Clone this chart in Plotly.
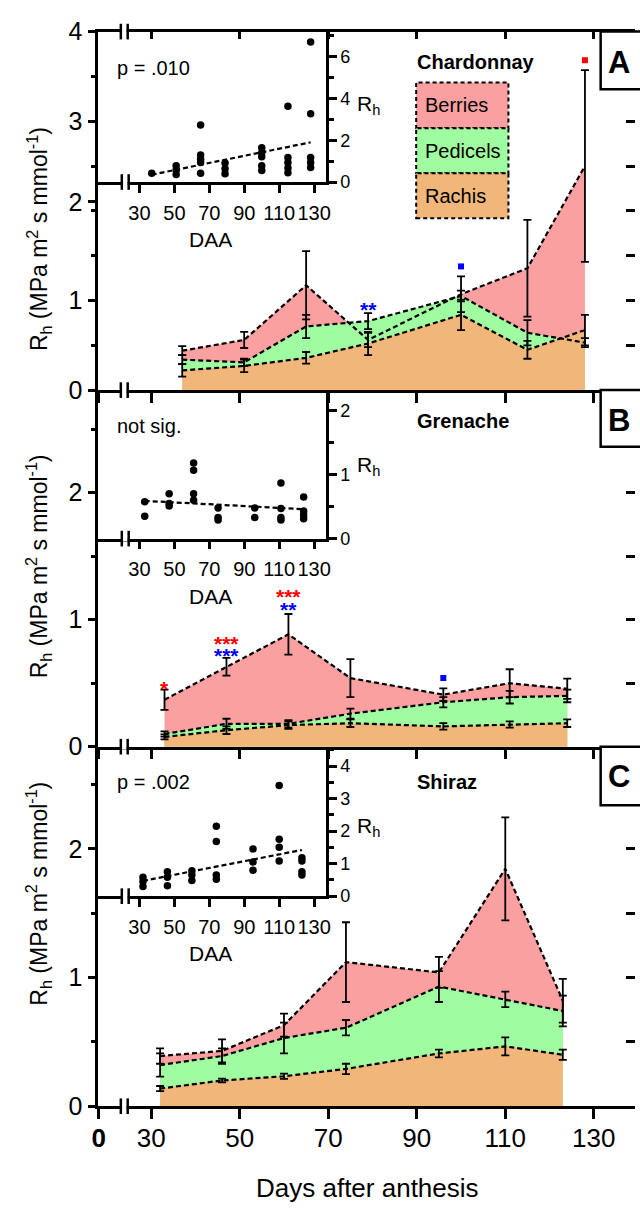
import plotly.graph_objects as go

W, H = 640, 1214

# ---------------- data ----------------
# Panel A - Chardonnay
daa_A = [37, 51, 65, 79, 100, 115, 128]
berries_A = [0.44, 0.56, 1.17, 0.56, 1.07, 1.36, 2.50]
berries_A_err = [0.05, 0.09, 0.38, 0.08, 0.20, 0.54, 1.07]
pedicels_A = [0.34, 0.31, 0.71, 0.77, 1.05, 0.64, 0.53]
pedicels_A_err = [0.05, 0.04, 0.13, 0.09, 0.06, 0.14, 0.05]
rachis_A = [0.22, 0.27, 0.36, 0.52, 0.84, 0.45, 0.67]
rachis_A_err = [0.07, 0.07, 0.065, 0.13, 0.17, 0.10, 0.17]

# Panel B - Grenache
daa_B = [33, 47, 61, 75, 96, 111, 124]
berries_B = [0.37, 0.63, 0.885, 0.54, 0.41, 0.50, 0.456]
berries_B_err = [0.08, 0.07, 0.16, 0.15, 0.05, 0.11, 0.08]
pedicels_B = [0.10, 0.18, 0.18, 0.26, 0.35, 0.39, 0.40]
pedicels_B_err = [0.02, 0.04, 0.03, 0.04, 0.04, 0.05, 0.05]
rachis_B = [0.077, 0.13, 0.17, 0.185, 0.16, 0.175, 0.185]
rachis_B_err = [0.02, 0.03, 0.03, 0.03, 0.025, 0.025, 0.03]

# Panel C - Shiraz
daa_C = [32, 46, 60, 74, 95, 110, 123]
berries_C = [0.39, 0.43, 0.63, 1.12, 1.04, 1.845, 0.82]
berries_C_err = [0.06, 0.09, 0.09, 0.31, 0.12, 0.40, 0.17]
pedicels_C = [0.32, 0.39, 0.53, 0.61, 0.93, 0.83, 0.74]
pedicels_C_err = [0.09, 0.06, 0.12, 0.06, 0.12, 0.06, 0.12]
rachis_C = [0.137, 0.20, 0.233, 0.29, 0.41, 0.465, 0.40]
rachis_C_err = [0.02, 0.015, 0.02, 0.04, 0.03, 0.07, 0.04]

# Insets: individual Rh values vs DAA and the fitted line ends
insA_daa = [37, 51, 51, 51, 65, 65, 65, 65, 65, 79, 79, 79, 100, 100, 100, 100, 100,
            115, 115, 115, 115, 115, 128, 128, 128, 128, 128]
insA_rh = [0.42, 0.78, 0.58, 0.36, 2.73, 1.29, 1.09, 0.93, 0.42, 0.91, 0.63, 0.39,
           1.64, 1.40, 1.21, 0.78, 0.55, 3.63, 1.17, 0.93, 0.67, 0.44, 6.7, 3.27, 1.17, 0.93, 0.70]
fitA_daa = [37, 128]
fitA_rh = [0.35, 1.9]

insB_daa = [33, 33, 47, 47, 47, 61, 61, 61, 61, 75, 75, 75, 96, 96, 111, 111, 111, 111,
            124, 124, 124, 124]
insB_rh = [0.575, 0.35, 0.70, 0.55, 0.51, 1.18, 1.07, 0.70, 0.60, 0.48, 0.33, 0.29,
           0.48, 0.33, 0.87, 0.47, 0.33, 0.29, 0.65, 0.43, 0.37, 0.31]
fitB_daa = [33, 124]
fitB_rh = [0.59, 0.46]

insC_daa = [32, 32, 32, 46, 46, 46, 60, 60, 60, 74, 74, 74, 74, 95, 95, 95,
            110, 110, 110, 110, 123, 123, 123, 123]
insC_rh = [0.58, 0.45, 0.30, 0.75, 0.58, 0.32, 0.78, 0.65, 0.48, 2.15, 1.68, 0.65, 0.52,
           1.45, 1.05, 0.80, 3.4, 1.75, 1.5, 1.08, 1.18, 1.08, 0.75, 0.65]
fitC_daa = [32, 123]
fitC_rh = [0.47, 1.42]

# significance marks: (panel, DAA, y, text, colour)
sig_stars = [
    ("A", 79, 0.95, "**", "blue"),
    ("B", 33, 0.50, "*", "red"),
    ("B", 47, 0.85, "***", "red"),
    ("B", 47, 0.76, "***", "blue"),
    ("B", 61, 1.22, "***", "red"),
    ("B", 61, 1.12, "**", "blue"),
]
sig_squares = [
    ("A", 128, 3.68, "red"),
    ("A", 100, 1.38, "blue"),
    ("B", 96, 0.54, "blue"),
]

series_names = ["Berries", "Pedicels", "Rachis"]
cultivars = ["Chardonnay", "Grenache", "Shiraz"]
panel_letters = ["A", "B", "C"]
p_texts = ["p = .010", "not sig.", "p = .002"]
main_xticks = [30, 50, 70, 90, 110, 130]
inset_xticks = [30, 50, 70, 90, 110, 130]

# ---------------- layout helpers ----------------
def px(x):
    return x / W

def py(y):
    return 1 - y / H

FONT = "Liberation Sans, Arial, Helvetica, sans-serif"
RED = "rgb(250,160,160)"
GREEN = "rgb(160,252,160)"
ORANGE = "rgb(240,182,122)"
FILLS = [RED, GREEN, ORANGE]
DASH = "5px,3px"

LEFT = 93
XR0, XR1 = 18.03, 139.31          # main x range (spine at 93 px, right edge at 640 px)
ZERO_POS = 18.15                   # position of the broken-axis "0" tick
panel_px = [(18, 385), (385, 750), (750, 1118)]
inset_bottom = [172, 537, 903]
INSET_RIGHT = 325
IXR0, IXR1 = 6.4, 136.74
main_ytop = [4.0, 365 / 130.0, 368 / 131.7]
inset_ytop = [154 / 21.4, 152 / 65.5, 153 / 33.3]
main_ylabels = [[0, 1, 2, 3, 4], [0, 1, 2], [0, 1, 2]]
main_ytickpos = [[0, 1, 2.1, 3, 4], [0, 1, 2], [0, 1, 2]]
inset_yticks = [[0, 2, 4, 6], [0, 1, 2], [0, 1, 2, 3, 4]]
inset_ydt = [1, 0.5, 0.5]

data = [
    (daa_A, [berries_A, pedicels_A, rachis_A], [berries_A_err, pedicels_A_err, rachis_A_err],
     insA_daa, insA_rh, fitA_daa, fitA_rh),
    (daa_B, [berries_B, pedicels_B, rachis_B], [berries_B_err, pedicels_B_err, rachis_B_err],
     insB_daa, insB_rh, fitB_daa, fitB_rh),
    (daa_C, [berries_C, pedicels_C, rachis_C], [berries_C_err, pedicels_C_err, rachis_C_err],
     insC_daa, insC_rh, fitC_daa, fitC_rh),
]

fig = go.Figure()
layout = dict(width=W, height=H, margin=dict(l=0, r=0, t=0, b=0),
              paper_bgcolor="white", plot_bgcolor="rgba(0,0,0,0)", showlegend=False,
              font=dict(family=FONT, color="black"))

shapes = []
annotations = []

for i in range(3):
    top, bot = panel_px[i]
    mx = "x" if i == 0 else f"x{i+1}"
    my = "y" if i == 0 else f"y{i+1}"
    ix, iy = f"x{i+4}", f"y{i+4}"
    mxk = "xaxis" if i == 0 else f"xaxis{i+1}"
    myk = "yaxis" if i == 0 else f"yaxis{i+1}"
    daa, vals, errs, idaa, irh, fdaa, frh = data[i]

    for name, v, col in zip(series_names, vals, FILLS):
        fig.add_trace(go.Scatter(x=daa, y=v, mode="lines", fill="tozeroy", fillcolor=col,
                                 line=dict(width=0, color=col), name=name,
                                 xaxis=mx, yaxis=my, hoverinfo="skip"))
    for name, v in zip(series_names, vals):
        fig.add_trace(go.Scatter(x=daa, y=v, mode="lines",
                                 line=dict(width=2.2, color="black", dash=DASH),
                                 xaxis=mx, yaxis=my, name=name))
    for name, v, e in zip(series_names, vals, errs):
        fig.add_trace(go.Scatter(x=daa, y=v, mode="markers",
                                 marker=dict(size=2, color="rgba(0,0,0,0)"),
                                 error_y=dict(type="data", array=e, visible=True,
                                              color="black", thickness=1.8, width=4),
                                 xaxis=mx, yaxis=my, name=name))
    fig.add_trace(go.Scatter(x=idaa, y=irh, mode="markers",
                             marker=dict(size=7.5, color="black"), xaxis=ix, yaxis=iy))
    fig.add_trace(go.Scatter(x=fdaa, y=frh, mode="lines",
                             line=dict(width=2.2, color="black", dash=DASH), xaxis=ix, yaxis=iy))

    layout[mxk] = dict(domain=[px(LEFT), 1.0], range=[XR0, XR1], anchor=my,
                       showline=True, linewidth=2.5, linecolor="black",
                       ticks="outside", ticklen=10, tickwidth=2.5, tickcolor="black",
                       tickvals=[ZERO_POS] + main_xticks,
                       ticktext=["<b>0</b>"] + [str(t) for t in main_xticks],
                       showticklabels=(i == 2), tickfont=dict(family=FONT, size=26, color="black"),
                       ticklabelstandoff=-3, tickangle=0,
                       showgrid=False, zeroline=False)
    layout[myk] = dict(domain=[py(bot), py(top)], range=[0, main_ytop[i]], anchor=mx,
                       showline=True, linewidth=2.5, linecolor="black",
                       ticks="outside", ticklen=8, tickwidth=2.5, tickcolor="black",
                       tickvals=main_ytickpos[i], ticktext=[str(t) for t in main_ylabels[i]],
                       minor=dict(dtick=0.5, tick0=0, ticks="outside", ticklen=5,
                                  tickwidth=2.5, tickcolor="black", showgrid=False),
                       tickfont=dict(family=FONT, size=25, color="black"),
                       showgrid=False, zeroline=False)
    ryk = f"yaxis{i+7}"
    layout[ryk] = dict(overlaying=my, side="right", anchor=mx, range=[0, main_ytop[i]],
                       showline=False, ticks="inside", ticklen=9, tickwidth=2.5, tickcolor="black",
                       dtick=0.5, tick0=0, showticklabels=False, showgrid=False, zeroline=False)
    fig.add_trace(go.Scatter(x=[None], y=[None], xaxis=mx, yaxis=f"y{i+7}", hoverinfo="skip"))

    layout[f"xaxis{i+4}"] = dict(domain=[px(LEFT), px(INSET_RIGHT)], range=[IXR0, IXR1], anchor=iy,
                                 showline=True, linewidth=2.5, linecolor="black",
                                 ticks="outside", ticklen=8, tickwidth=2.5, tickcolor="black",
                                 tickvals=inset_xticks, ticktext=[str(t) for t in inset_xticks],
                                 tickfont=dict(family=FONT, size=20, color="black"),
                                 tickangle=0, ticklabelstandoff=3,
                                 showgrid=False, zeroline=False)
    layout[f"yaxis{i+4}"] = dict(domain=[py(inset_bottom[i]), py(top)], range=[0, inset_ytop[i]],
                                 anchor=ix, side="right",
                                 showline=True, linewidth=2.5, linecolor="black",
                                 ticks="outside", ticklen=8, tickwidth=2.5, tickcolor="black",
                                 tickvals=inset_yticks[i], ticktext=[str(t) for t in inset_yticks[i]],
                                 minor=dict(dtick=inset_ydt[i], tick0=0, ticks="outside", ticklen=5,
                                            tickwidth=2.5, tickcolor="black", showgrid=False),
                                 tickfont=dict(family=FONT, size=18, color="black"),
                                 showgrid=False, zeroline=False)

    ytitle_y = [230, 565, 900][i]
    annotations.append(dict(x=px(32), y=py(ytitle_y), xref="paper", yref="paper",
                            text="R<sub>h</sub> (MPa m<sup>2</sup> s mmol<sup>-1</sup>)",
                            textangle=-90, showarrow=False, xanchor="center", yanchor="middle",
                            font=dict(family=FONT, size=23, color="black")))
    annotations.append(dict(x=px(207), y=py(inset_bottom[i] + 59), xref="paper", yref="paper",
                            text="DAA", showarrow=False, xanchor="center", yanchor="middle",
                            font=dict(family=FONT, size=21, color="black")))
    annotations.append(dict(x=px(355), y=py([93, 463, 832][i]), xref="paper", yref="paper",
                            text="R<sub>h</sub>", showarrow=False, xanchor="left", yanchor="middle",
                            font=dict(family=FONT, size=21, color="black")))
    annotations.append(dict(x=px(110), y=py([55, 422, 786][i]), xref="paper", yref="paper",
                            text=p_texts[i], showarrow=False, xanchor="left", yanchor="middle",
                            font=dict(family=FONT, size=20, color="black")))
    annotations.append(dict(x=px(416), y=py([49, 417, 786][i]), xref="paper", yref="paper",
                            text="<b>" + cultivars[i] + "</b>", showarrow=False, xanchor="left",
                            yanchor="middle", font=dict(family=FONT, size=20, color="black")))
    box_bot = [77, 443, 810][i]
    shapes.append(dict(type="rect", xref="paper", yref="paper", x0=px(605), x1=px(680),
                       y0=py(box_bot), y1=py(top), line=dict(color="black", width=2.5),
                       fillcolor="white", layer="above"))
    annotations.append(dict(x=px(624), y=py([50, 416, 781][i]), xref="paper", yref="paper",
                            text="<b>" + panel_letters[i] + "</b>", showarrow=False,
                            xanchor="center", yanchor="middle",
                            font=dict(family=FONT, size=31, color="black")))

layout["xaxis7"] = dict(overlaying="x", side="top", anchor="y", range=[XR0, XR1],
                        showline=True, linewidth=2.5, linecolor="black",
                        ticks="inside", ticklen=8, tickwidth=2.5, tickcolor="black",
                        tickvals=main_xticks, showticklabels=False, showgrid=False, zeroline=False)
fig.add_trace(go.Scatter(x=[None], y=[None], xaxis="x7", yaxis="y", hoverinfo="skip"))

def add_break(ypix, g0, g1):
    shapes.append(dict(type="rect", xref="paper", yref="paper", x0=px(g0 + 1), x1=px(g1 - 1),
                       y0=py(ypix + 3), y1=py(ypix - 3), line=dict(width=0),
                       fillcolor="white", layer="above"))
    for g in (g0, g1):
        shapes.append(dict(type="line", xref="paper", yref="paper", x0=px(g), x1=px(g),
                           y0=py(ypix + 8), y1=py(ypix - 8),
                           line=dict(color="black", width=2.5), layer="above"))

for yb in [18, 385, 750, 1118]:
    add_break(yb, 116, 123)
for yb in inset_bottom:
    add_break(yb, 117, 124)

leg_y = [(70, 117), (117, 163), (163, 209)]
for name, col, (y0, y1) in zip(series_names, FILLS, leg_y):
    shapes.append(dict(type="rect", xref="paper", yref="paper", x0=px(417), x1=px(511),
                       y0=py(y1), y1=py(y0), fillcolor=col,
                       line=dict(color="black", width=2, dash="4px,3px"), layer="above"))
    annotations.append(dict(x=px(424), y=py((y0 + y1) / 2), xref="paper", yref="paper",
                            text=name, showarrow=False, xanchor="left", yanchor="middle",
                            font=dict(family=FONT, size=20, color="black")))

ref = {"A": ("x", "y"), "B": ("x2", "y2"), "C": ("x3", "y3")}
for p, d, yv, t, c in sig_stars:
    xr, yr = ref[p]
    annotations.append(dict(x=d, y=yv, xref=xr, yref=yr, text="<b>" + t + "</b>", showarrow=False,
                            xanchor="center", yanchor="middle", yshift=-5,
                            font=dict(family=FONT, size=21, color=c)))
for p, d, yv, c in sig_squares:
    xr, yr = ref[p]
    fig.add_trace(go.Scatter(x=[d], y=[yv], mode="markers",
                             marker=dict(symbol="square", size=6, color=c),
                             xaxis=xr, yaxis=yr))

annotations.append(dict(x=px(367), y=py(1202), xref="paper", yref="paper",
                        text="Days after anthesis", showarrow=False, xanchor="center",
                        yanchor="middle", font=dict(family=FONT, size=26, color="black")))

layout["shapes"] = shapes
layout["annotations"] = annotations
fig.update_layout(**layout)
fig.write_html("out.html")
